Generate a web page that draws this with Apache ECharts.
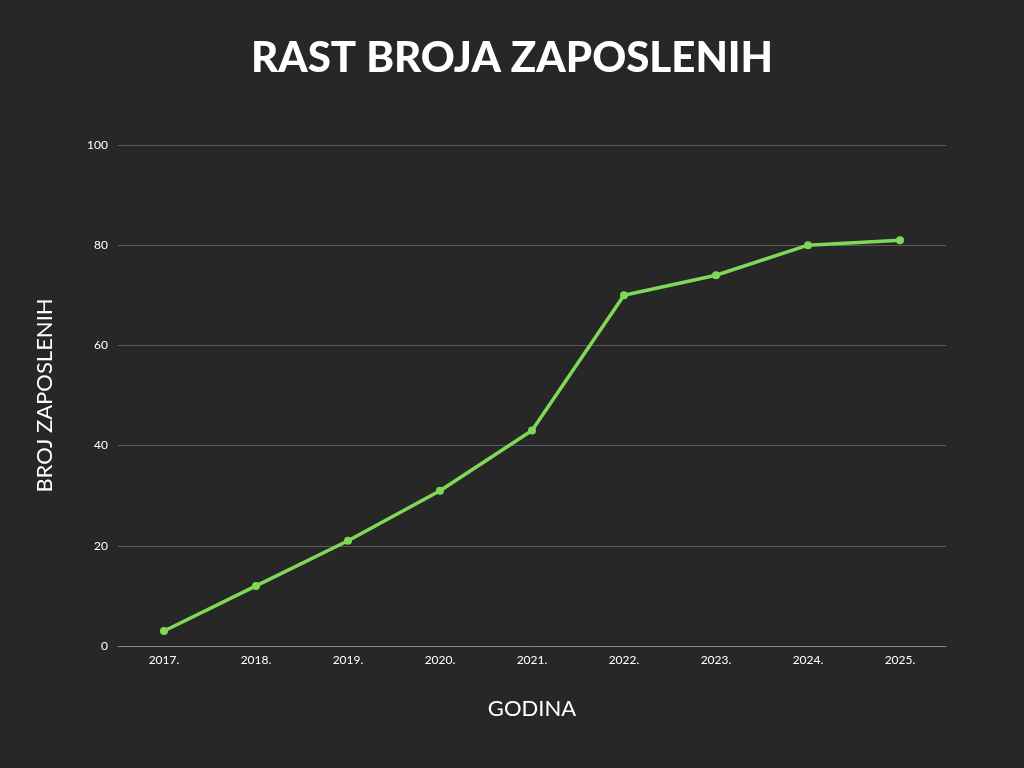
<!DOCTYPE html>
<html>
<head>
<meta charset="utf-8">
<script src="https://cdn.jsdelivr.net/npm/echarts@6/dist/echarts.min.js"></script>
<style>html,body{margin:0;padding:0;background:#272727;}#chart{width:1024px;height:768px;}</style>
</head>
<body>
<div id="chart"></div>
<script>
var years = ['2017.', '2018.', '2019.', '2020.', '2021.', '2022.', '2023.', '2024.', '2025.'];
var employees = [3, 12, 21, 31, 43, 70, 74, 80, 81];

var chart = echarts.init(document.getElementById('chart'));
chart.setOption({
  backgroundColor: '#272727',
  title: {
    text: 'RAST BROJA ZAPOSLENIH',
    left: 'center',
    top: 32,
    textStyle: { color: '#fff', fontFamily: 'Lato', fontWeight: 900, fontSize: 42 }
  },
  grid: { left: 118, right: 78, top: 145, bottom: 122 },
  xAxis: {
    type: 'category',
    data: years,
    name: 'GODINA',
    nameLocation: 'middle',
    nameGap: 52,
    nameTextStyle: { color: '#fff', fontFamily: 'Lato', fontSize: 22 },
    axisLine: { lineStyle: { color: '#888' } },
    axisTick: { show: false },
    axisLabel: { color: '#fff', fontFamily: 'Lato', fontSize: 12, margin: 8 }
  },
  yAxis: {
    type: 'value',
    min: 0, max: 100, interval: 20,
    name: 'BROJ ZAPOSLENIH',
    nameLocation: 'middle',
    nameGap: 62,
    nameTextStyle: { color: '#fff', fontFamily: 'Lato', fontSize: 22 },
    axisLabel: { color: '#fff', fontFamily: 'Lato', fontSize: 12, margin: 10 },
    splitLine: { lineStyle: { color: '#5a5a5a' } }
  },
  series: [{
    type: 'line',
    data: employees,
    symbol: 'circle',
    symbolSize: 8,
    lineStyle: { color: '#7ed957', width: 3.5 },
    itemStyle: { color: '#7ed957' }
  }]
});
</script>
</body>
</html>
